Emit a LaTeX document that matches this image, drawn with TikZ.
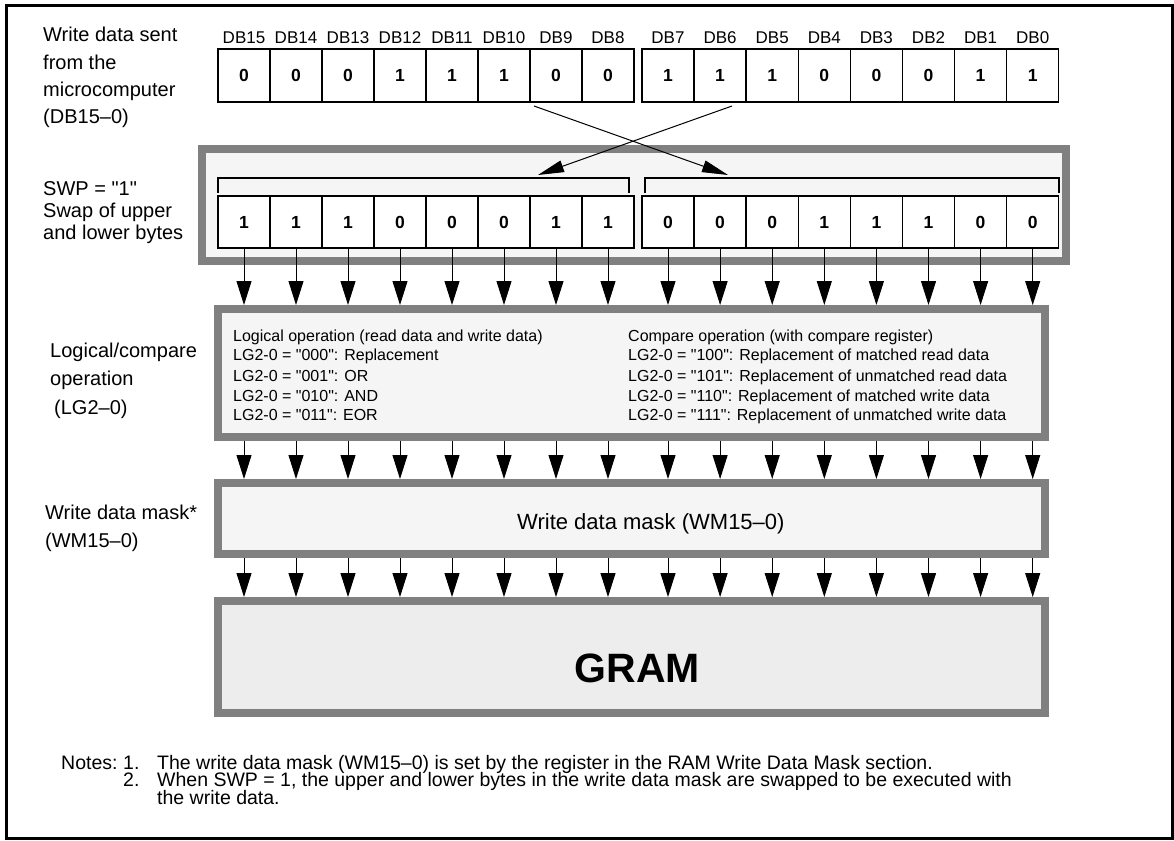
\documentclass[tikz,border=0pt]{standalone}
\usepackage{fontspec}
\setmainfont{Liberation Sans}[Ligatures=TeXOff]
\usetikzlibrary{arrows.meta}
\definecolor{bordergray}{HTML}{808080}
\definecolor{lightfill}{HTML}{F5F5F5}
\definecolor{gramfill}{HTML}{EDEDED}
\tikzset{
  graybox/.style={draw=bordergray, line width=8pt, fill=lightfill, inner sep=0pt, outer sep=4pt},
  cell/.style={draw=black, fill=white, line width=1.4pt, minimum width=52pt, inner sep=0pt, outer sep=0pt, font=\fontsize{17.5}{20}\selectfont\bfseries},
  dblabel/.style={font=\fontsize{17}{20}\selectfont, anchor=base, inner sep=0pt},
  sidelabel/.style={font=\fontsize{20}{24}\selectfont, anchor=base west, inner sep=0pt},
  optext/.style={font=\fontsize{16}{18}\selectfont, anchor=base west, inner sep=0pt},
  notetext/.style={font=\fontsize{19.5}{21}\selectfont, anchor=base west, inner sep=0pt},
  flow/.style={line width=1pt, -{Triangle[length=24pt,width=15pt]}},
  swaparrow/.style={line width=1pt, -{Triangle[length=26pt,width=12pt]}},
  bracketline/.style={line width=1.5pt},
  framebox/.style={line width=3pt}
}
\begin{document}
\begin{tikzpicture}[x=1pt,y=-1pt]
\useasboundingbox (0,0) rectangle (1174,840);
\draw[framebox] (6.5,5.5) rectangle (1172,838);

% side labels
\node[sidelabel] (s1) at (43,42) {Write data sent};
\node[sidelabel] (s2) at (43,70) {from the};
\node[sidelabel] (s3) at (43,97) {microcomputer};
\node[sidelabel] (s4) at (43,124) {(DB15–0)};
\node[sidelabel] (s5) at (43,195) {SWP = "1"};
\node[sidelabel] (s6) at (43,217) {Swap of upper};
\node[sidelabel] (s7) at (43,239) {and lower bytes};
\node[sidelabel] (s8) at (50,357) {Logical/compare};
\node[sidelabel] (s9) at (50,385) {operation};
\node[sidelabel] (s10) at (50,414) {\hspace{4pt}(LG2–0)};
\node[sidelabel] (s11) at (45,519) {Write data mask*};
\node[sidelabel] (s12) at (45,547) {(WM15–0)};

% boxes
\node[graybox, minimum width=864pt, minimum height=112pt] (swapbox) at (634,205) {};
\node[graybox, minimum width=827pt, minimum height=128pt] (logic) at (631.5,373) {};
\node[graybox, minimum width=827pt, minimum height=71pt] (mask) at (631.5,518.5) {};
\node[graybox, fill=gramfill, minimum width=827pt, minimum height=112pt] (gram) at (631.5,657) {};

% top register
\foreach \v [count=\k from 0] in {0,0,0,1,1,1,0,0,1,1,1,0,0,0,1,1} {
  \pgfmathsetmacro\cx{\k<8 ? 244+52*\k : 668+52.1*(\k-8)}
  \pgfmathtruncatemacro\bit{15-\k}
  \node[cell, minimum height=53pt] (t\k) at (\cx,75.5) {\v};
  \node[dblabel] (l\k) at (\cx,44) {DB\bit};
}
% swapped register
\foreach \v [count=\k from 0] in {1,1,1,0,0,0,1,1,0,0,0,1,1,1,0,0} {
  \pgfmathsetmacro\cx{\k<8 ? 244+52*\k : 668+52.1*(\k-8)}
  \node[cell, minimum height=52pt] (b\k) at (\cx,222) {\v};
}

% brackets
\draw[bracketline] (218,193) -- (218,178) -- (629,178) -- (629,193);
\draw[bracketline] (645,193) -- (645,178) -- (1059,178) -- (1059,193);

% swap arrows
\coordinate (xa1) at (534,106);
\coordinate (xb1) at (728,175);
\coordinate (xa2) at (732,106);
\coordinate (xb2) at (538,175);
\draw[swaparrow] (xa1) -- (xb1);
\draw[swaparrow] (xa2) -- (xb2);

% down arrows
\foreach \k in {0,...,15} {
  \draw[flow] (b\k.south) -- (b\k.south |- logic.north);
  \draw[flow] (b\k.south |- logic.south) -- (b\k.south |- mask.north);
  \draw[flow] (b\k.south |- mask.south) -- (b\k.south |- gram.north);
}

% logic texts
\node[optext] (o1) at (233,341) {Logical operation (read data and write data)};
\node[optext] (o2) at (233,360) {LG2-0 = "000": Replacement};
\node[optext] (o3) at (233,381) {LG2-0 = "001": OR};
\node[optext] (o4) at (233,401) {LG2-0 = "010": AND};
\node[optext] (o5) at (233,420) {LG2-0 = "011": EOR};
\node[optext] (c1) at (628,341) {Compare operation (with compare register)};
\node[optext] (c2) at (628,360) {LG2-0 = "100": Replacement of matched read data};
\node[optext] (c3) at (628,381) {LG2-0 = "101": Replacement of unmatched read data};
\node[optext] (c4) at (628,401) {LG2-0 = "110": Replacement of matched write data};
\node[optext] (c5) at (628,420) {LG2-0 = "111": Replacement of unmatched write data};

% mask and gram texts
\node[anchor=base west, inner sep=0pt, font=\fontsize{22}{26}\selectfont] (mtext) at (517,529) {Write data mask (WM15–0)};
\node[anchor=base, inner sep=0pt, font=\fontsize{41}{48}\selectfont\bfseries] (gtext) at (637.5,682) {GRAM};

% notes
\node[notetext] (n0) at (61,769) {Notes:};
\node[notetext] (n1) at (123,769) {\makebox[34pt][l]{1.}The write data mask (WM15–0) is set by the register in the RAM Write Data Mask section.};
\node[notetext] (n2) at (123,786.5) {\makebox[34pt][l]{2.}When SWP = 1, the upper and lower bytes in the write data mask are swapped to be executed with};
\node[notetext] (n3) at (157,804) {the write data.};
\end{tikzpicture}
\end{document}
